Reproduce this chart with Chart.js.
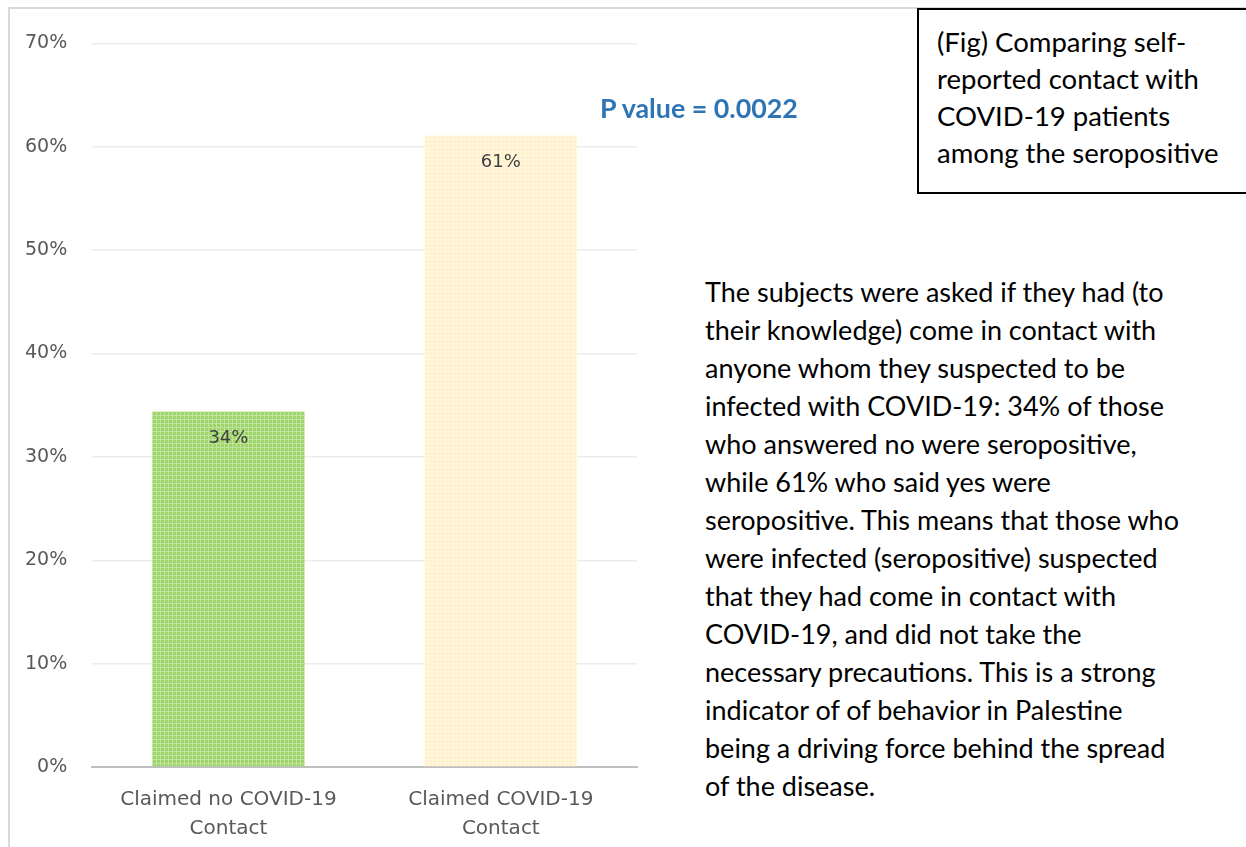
<!DOCTYPE html>
<html>
<head>
<meta charset="UTF-8" />
<title>Seropositive by self-reported contact</title>
<script src="https://cdn.jsdelivr.net/npm/chart.js@4.4.1/dist/chart.umd.min.js"></script>
<style>
    body { margin: 0; background: #fff; width: 1246px; height: 847px; overflow: hidden; position: relative; }
    #frame { position: absolute; left: 8px; top: 7px; width: 1300px; height: 900px;
             border-top: 2px solid #d9d9d9; border-left: 2px solid #d9d9d9; }
    #chart_box { position: absolute; left: 0px; top: 7px; width: 660px; height: 854px; }
    #pvalue { position: absolute; left: 600px; top: 92px; font-family: Lato, sans-serif;
              font-weight: bold; font-size: 26.8px; color: #2e75b6; white-space: nowrap; }
    #caption { position: absolute; left: 917px; top: 8px; width: 400px; height: 186px;
               border: 2px solid #000; box-sizing: border-box; padding: 13px 0 0 18px;
               font-family: Lato, sans-serif; font-size: 27.5px; line-height: 37px; color: #000; white-space: nowrap; }
    #notes { position: absolute; left: 705px; top: 273px; font-family: Lato, sans-serif;
             font-size: 27px; line-height: 38px; color: #000; white-space: nowrap; }
</style>
</head>
<body>

<div id="frame"></div>
<div id="chart_box"><canvas id="chart"></canvas></div>

<div id="pvalue">P value = 0.0022</div>

<div id="caption">(Fig) Comparing self-<br>reported contact with<br>COVID-19 patients<br>among the seropositive</div>

<div id="notes">
The subjects were asked if they had (to<br>
their knowledge) come in contact with<br>
anyone whom they suspected to be<br>
infected with COVID-19: 34% of those<br>
who answered no were seropositive,<br>
while 61% who said yes were<br>
seropositive. This means that those who<br>
were infected (seropositive) suspected<br>
that they had come in contact with<br>
COVID-19, and did not take the<br>
necessary precautions. This is a strong<br>
indicator of of behavior in Palestine<br>
being a driving force behind the spread<br>
of the disease.
</div>

<script>
    // data
    const categories = [["Claimed no COVID-19", "Contact"], ["Claimed COVID-19", "Contact"]];
    const seropositive = [0.344, 0.611];
    const barLabels = ["34%", "61%"];
    const yMax = 0.7;
    const yStep = 0.1;

    function makePattern(base, line) {
        const c = document.createElement('canvas');
        c.width = 4; c.height = 4;
        const g = c.getContext('2d');
        g.fillStyle = base;
        g.fillRect(0, 0, 4, 4);
        g.fillStyle = line;
        g.fillRect(0, 0, 4, 1);
        g.fillRect(0, 0, 1, 4);
        return document.getElementById('chart').getContext('2d').createPattern(c, 'repeat');
    }

    const greenFill = makePattern('#9fd46c', '#bfe49b');
    const yellowFill = makePattern('#fff2cc', '#fff7e0');

    // value labels drawn just inside the top of each bar
    const barValueLabels = {
        id: 'barValueLabels',
        afterDatasetsDraw(chart) {
            const ctx = chart.ctx;
            const meta = chart.getDatasetMeta(0);
            ctx.save();
            ctx.font = '18px "DejaVu Sans", sans-serif';
            ctx.fillStyle = '#404040';
            ctx.textAlign = 'center';
            ctx.textBaseline = 'middle';
            meta.data.forEach((bar, i) => {
                ctx.fillText(barLabels[i], bar.x, bar.y + 27);
            });
            ctx.restore();
        }
    };

    const ctx = document.getElementById('chart').getContext('2d');

    const myChart = new Chart(ctx, {
        type: 'bar',
        data: {
            labels: categories,
            datasets: [{
                data: seropositive,
                backgroundColor: [greenFill, yellowFill],
                borderWidth: 0,
                categoryPercentage: 1.0,
                barPercentage: 0.56
            }]
        },
        options: {
            responsive: true,
            maintainAspectRatio: false,
            animation: false,
            layout: { padding: { top: 27, right: 23, left: 0, bottom: 0 } },
            plugins: {
                legend: { display: false },
                tooltip: { enabled: false }
            },
            scales: {
                x: {
                    grid: { display: false, drawTicks: false },
                    border: { color: '#bfbfbf', width: 2 },
                    ticks: {
                        color: '#595959',
                        padding: 18,
                        font: { family: '"DejaVu Sans", sans-serif', size: 20, lineHeight: 1.45 }
                    }
                },
                y: {
                    min: 0,
                    max: yMax,
                    grid: { color: '#ececec', lineWidth: 1.5, drawTicks: false },
                    border: { display: false },
                    ticks: {
                        stepSize: yStep,
                        color: '#595959',
                        padding: 25,
                        font: { family: '"DejaVu Sans", sans-serif', size: 19 },
                        callback: function(value) {
                            return Math.round(value * 100) + '%';
                        }
                    }
                }
            }
        },
        plugins: [barValueLabels]
    });
</script>

</body>
</html>
